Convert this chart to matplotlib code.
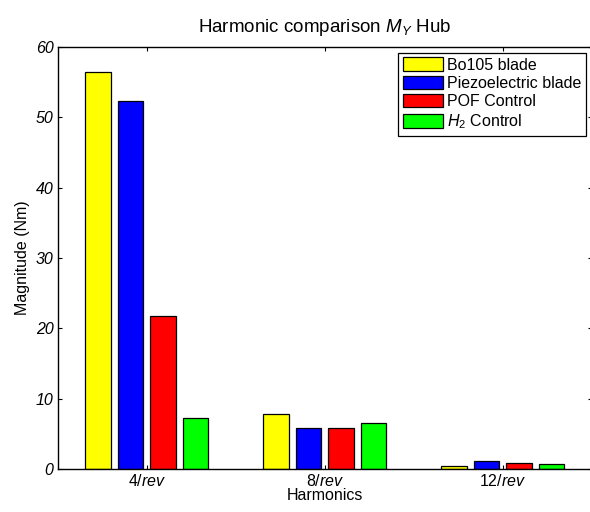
import numpy as np
import matplotlib.pyplot as plt

plt.rcParams['font.family'] = ['Liberation Sans', 'DejaVu Sans']
plt.rcParams['mathtext.fontset'] = 'custom'
plt.rcParams['mathtext.rm'] = 'Liberation Sans'
plt.rcParams['mathtext.it'] = 'Liberation Sans:italic'

# harmonic magnitudes (Nm)
harmonics = ['4/$rev$', '8/$rev$', '12/$rev$']
series_names = ['Bo105 blade', 'Piezoelectric blade', 'POF Control', '$H_2$ Control']
bo105 = [56.4, 7.8, 0.4]
piezo = [52.3, 5.9, 1.1]
pof = [21.7, 5.9, 0.8]
h2 = [7.3, 6.5, 0.7]
colors = ['#ffff00', '#0000ff', '#ff0000', '#00ff00']

fig = plt.figure(figsize=(5.9, 5.12), dpi=100)
# axes runs slightly past the right edge of the figure
ax = fig.add_axes([0.098, 0.084, 0.905, 0.824])

x = np.arange(1, len(harmonics) + 1)
step = 0.183
width = 0.144
for i, (vals, name, c) in enumerate(zip([bo105, piezo, pof, h2], series_names, colors)):
    ax.bar(x + (i - 1.5) * step, vals, width, color=c, edgecolor='black',
           linewidth=0.9, label=name)

ax.set_xlim(0.5, 3.5)
ax.set_ylim(0, 60)
ax.set_xticks(x)
ax.set_xticklabels(harmonics, fontsize=11.5)
ax.set_yticks(np.arange(0, 61, 10))
ax.set_yticklabels([str(v) for v in range(0, 61, 10)], fontsize=11.5, style='italic')
ax.tick_params(direction='in', top=True, right=True, length=3, width=0.8, pad=3)
for s in ax.spines.values():
    s.set_linewidth(1.0)

ax.set_xlabel('Harmonics', fontsize=11.5, labelpad=-1)
ax.set_ylabel('Magnitude (Nm)', fontsize=11.5, labelpad=4)
ax.set_title('Harmonic comparison $M_Y$ Hub', fontsize=13.5, pad=11)

leg = ax.legend(loc='upper right', fontsize=11.5, fancybox=False, framealpha=1,
                edgecolor='black', handlelength=2.5, handleheight=0.9,
                handletextpad=0.25, labelspacing=0.2, borderpad=0.3,
                borderaxespad=0.35)
leg.get_frame().set_linewidth(0.9)

plt.savefig('out.png', dpi=100)
